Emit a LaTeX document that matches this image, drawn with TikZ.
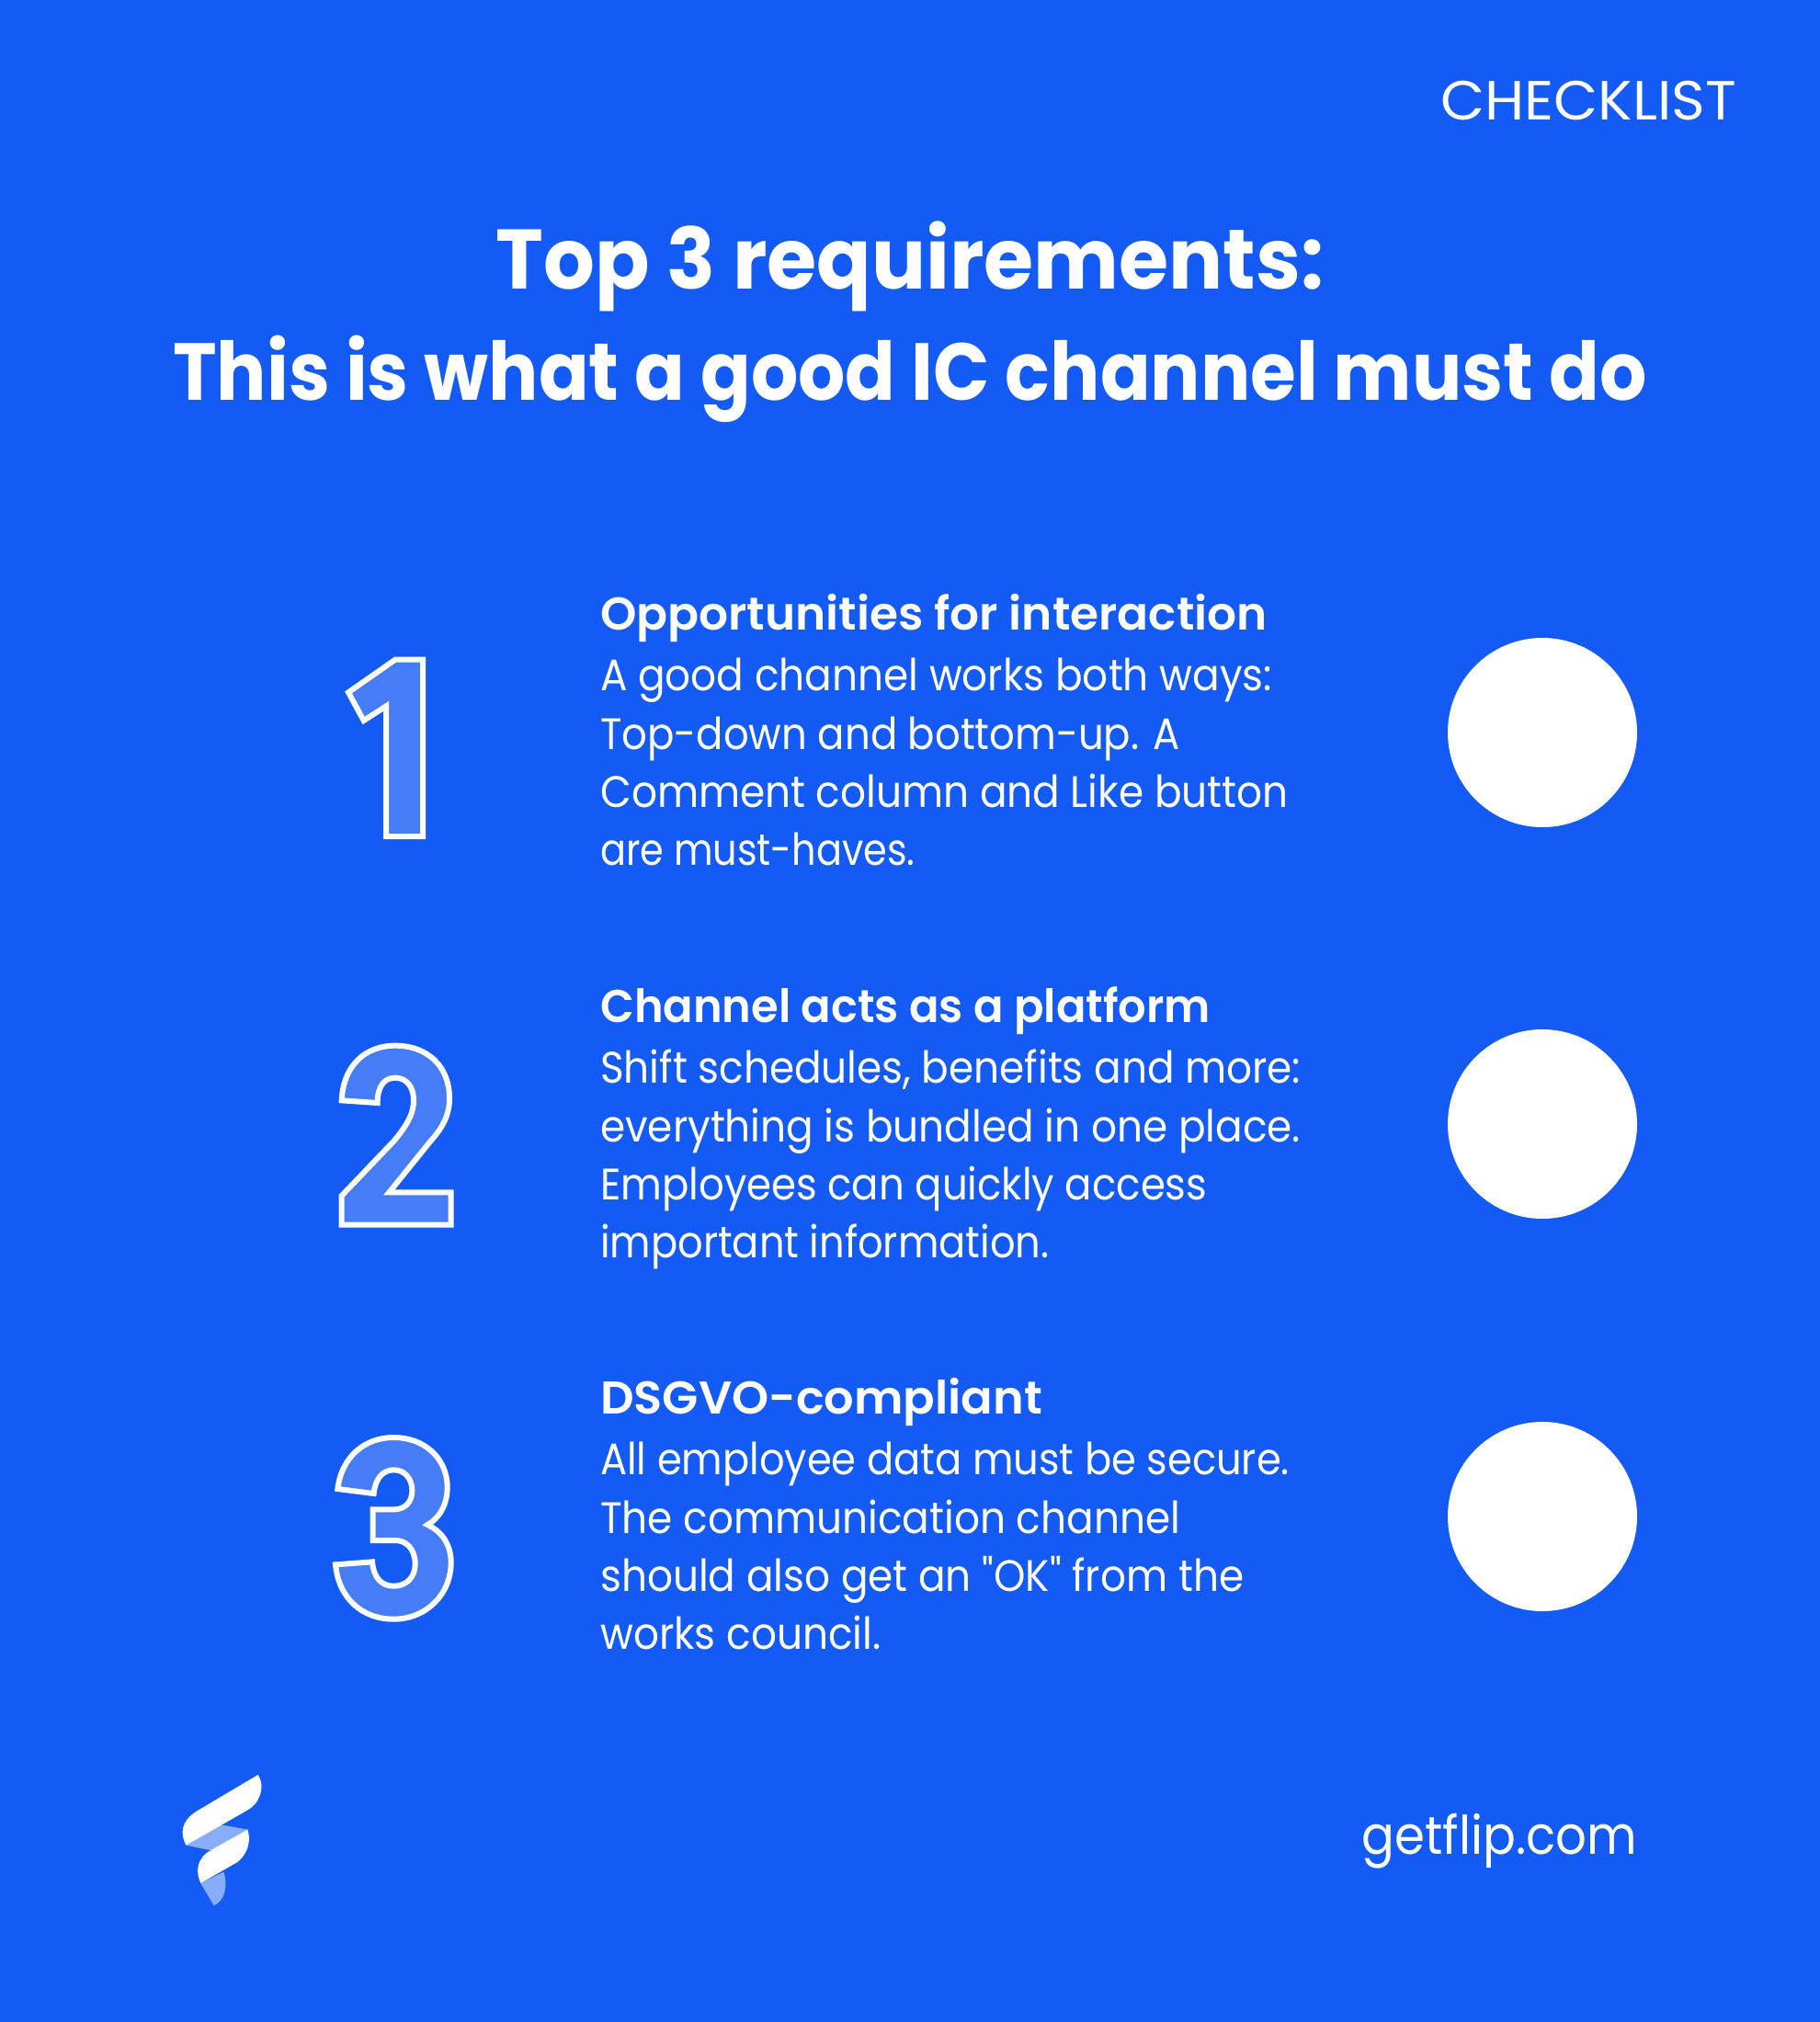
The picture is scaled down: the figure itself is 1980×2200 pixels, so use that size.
\documentclass[tikz,border=0pt]{standalone}
\usepackage{graphicx}
\usepackage{fontspec}
\setmainfont{Poppins}
\newfontfamily\bodyf{Poppins}
\newfontfamily\boldf{Poppins SemiBold}
\newfontfamily\heavyf{Poppins Bold}
\definecolor{bg}{RGB}{20,90,245}
\definecolor{digitfill}{RGB}{71,124,247}
\definecolor{logofade}{RGB}{138,173,251}
\tikzset{
  bodytext/.style={text=white,anchor=base west,align=left,inner sep=0pt,font=\bodyf\addfontfeatures{FakeStretch=0.912}\fontsize{48}{63.3}\selectfont},
  headtext/.style={text=white,anchor=base west,inner sep=0pt,font=\boldf\addfontfeatures{FakeStretch=0.94}\fontsize{50}{60}\selectfont},
  titletext/.style={text=white,anchor=base,inner sep=0pt,font=\heavyf\addfontfeatures{FakeStretch=0.916}\fontsize{88}{100}\selectfont},
  digit/.style={draw=white,fill=digitfill,line width=6pt,miter limit=6},
  dot/.style={circle,fill=white,inner sep=0pt,minimum size=206pt},
  zoomA/.style={x=0.33333pt,y=-0.33333pt}
}
\begin{document}
\begin{tikzpicture}[x=1pt,y=-1pt]
\useasboundingbox (0,0) rectangle (1980,2200);
\fill[bg] (0,0) rectangle (1980,2200);
\node[text=white,anchor=base east,inner sep=0pt,font=\bodyf\addfontfeatures{FakeStretch=1.04}\fontsize{60}{60}\selectfont] (check) at (1889,130) {CHECKLIST};
\node[titletext,font=\heavyf\addfontfeatures{FakeStretch=0.953}\fontsize{92}{100}\selectfont] (t1) at (990,314) {Top 3 requirements:};
\node[titletext] (t2) at (990,435) {This is what a good IC channel must do};

\node[headtext] (h1) at (653,685) {\scalebox{1.068}[1]{Opportunities for interaction}};
\node[bodytext,anchor=north west] (b1) at (653,716) {A good channel works both ways:\\\scalebox{0.992}[1]{Top-down and bottom-up. A}\\Comment column and Like button\\\scalebox{0.945}[1]{are must-haves.}};
\node[headtext] (h2) at (653,1112) {\scalebox{1.02}[1]{Channel acts as a platform}};
\node[bodytext,anchor=north west] (b2) at (653,1142) {Shift schedules, benefits and more:\\everything is bundled in one place.\\\scalebox{0.992}[1]{Employees can quickly access}\\\scalebox{0.986}[1]{important information.}};
\node[headtext] (h3) at (653,1538) {\scalebox{1.086}[1]{DSGVO-compliant}};
\node[bodytext,anchor=north west] (b3) at (653,1569) {\scalebox{0.987}[1]{All employee data must be secure.}\\The communication channel\\should also get an "OK" from the\\works council.};

\node[dot] (c1) at (1678,797) {};
\node[dot] (c2) at (1678,1223) {};
\node[dot] (c3) at (1678,1650) {};

\node[text=white,anchor=base east,inner sep=0pt,font=\bodyf\addfontfeatures{FakeStretch=0.913}\fontsize{58}{60}\selectfont] (url) at (1781,2017) {getflip.com};

% digit 1
\begin{scope}[shift={(330pt,-680pt)},zoomA]
\draw[digit] (300,113) -- (390,113) -- (390,690) -- (270,690) -- (270,265) -- (197,312) -- (147,220) -- cycle;
\end{scope}
% digit 2
\begin{scope}[shift={(340pt,-1110pt)},zoomA]
\draw[digit] (95,262) .. controls (100,150) and (170,83) .. (270,83)
  .. controls (375,83) and (447,150) .. (447,255)
  .. controls (447,310) and (425,350) .. (385,395)
  -- (250,562) -- (452,562) -- (452,668) -- (95,668) -- (95,573) -- (265,395)
  .. controls (315,335) and (330,300) .. (330,262)
  .. controls (330,215) and (305,188) .. (270,188)
  .. controls (235,188) and (212,215) .. (212,270) -- cycle;
\end{scope}
% digit 3
\begin{scope}[shift={(340pt,-1540pt)},zoomA]
\draw[digit] (82,240) .. controls (95,135) and (170,72) .. (265,72)
  .. controls (365,72) and (440,140) .. (440,235)
  .. controls (440,290) and (415,335) .. (375,357)
  .. controls (425,380) and (452,425) .. (452,480)
  .. controls (452,585) and (370,665) .. (265,665)
  .. controls (160,665) and (85,595) .. (75,487)
  -- (195,478)
  .. controls (200,530) and (225,557) .. (265,557)
  .. controls (305,557) and (335,530) .. (335,485)
  .. controls (335,435) and (305,408) .. (270,408)
  -- (197,408) -- (197,307) -- (265,307)
  .. controls (300,307) and (325,285) .. (325,245)
  .. controls (325,205) and (300,178) .. (265,178)
  .. controls (230,178) and (205,205) .. (200,255) -- cycle;
\end{scope}
% logo
\begin{scope}[shift={(150pt,-1900pt)},zoomA]
\fill[logofade] (157,323) -- (270,256) -- (360,272) -- (240,340) -- cycle;
\fill[logofade] (205,447) -- (280,410) .. controls (295,450) and (285,505) .. (248,520) -- cycle;
\fill[white] (392,93) .. controls (408,115) and (408,155) .. (385,185) .. controls (375,197) and (365,205) .. (350,213)
  -- (157,323) .. controls (138,285) and (140,245) .. (190,213) -- cycle;
\fill[white] (358,272) .. controls (368,300) and (365,345) .. (325,378)
  -- (205,447) .. controls (188,410) and (190,365) .. (240,338) -- cycle;
\end{scope}
\end{tikzpicture}
\end{document}
